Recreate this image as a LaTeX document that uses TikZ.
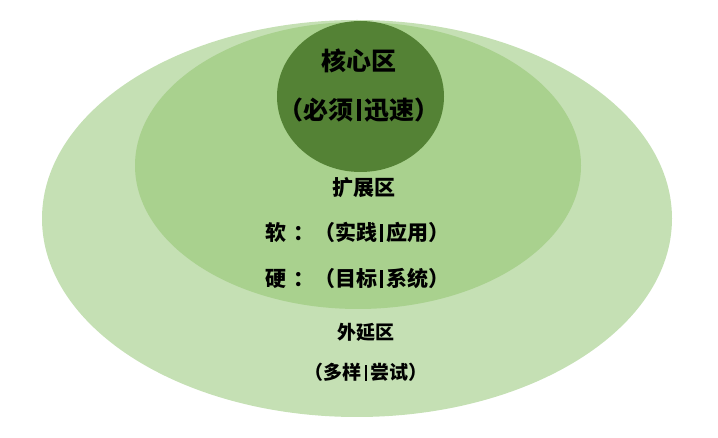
\documentclass[tikz,border=0pt]{standalone}
\usepackage{fontspec}
\setmainfont{Noto Sans CJK SC}
\usetikzlibrary{shapes.geometric}
\definecolor{outerg}{HTML}{C5E0B4}
\definecolor{midg}{HTML}{A9D18E}
\definecolor{innerg}{HTML}{548235}
\newcommand\barsep{\kern.15em\rule[-0.06em]{0.14em}{0.86em}\kern.15em}
\tikzset{
  zone/.style={ellipse, inner sep=0pt, draw=none},
  lbl/.style={inner sep=0pt, text=black},
  bigf/.style={font=\fontsize{25}{28}\selectfont\bfseries},
  midf/.style={font=\fontsize{21}{24}\selectfont\bfseries},
  smlf/.style={font=\fontsize{19}{22}\selectfont\bfseries},
}
\begin{document}
\begin{tikzpicture}[x=1pt,y=-1pt]
\useasboundingbox (0,0) rectangle (718,438);
\node[zone, fill=outerg, minimum width=630pt, minimum height=397pt] (outer) at (357,218.5) {};
\node[zone, fill=midg, minimum width=446pt, minimum height=287pt] (mid) at (358,165.5) {};
\node[zone, fill=innerg, minimum width=167pt, minimum height=151pt] (inner) at (360.5,96.5) {};
\node[lbl, bigf] (c1) at (359,61) {核心区};
\node[lbl, bigf] (c2) at (359,110) {（必须\barsep 迅速）};
\node[lbl, midf] (m1) at (364,188) {扩展区};
\node[lbl, midf] (m2) at (357.5,232.5) {软\kern.3em：（实践\barsep 应用）};
\node[lbl, midf] (m3) at (357.5,279) {硬\kern.3em：（目标\barsep 系统）};
\node[lbl, smlf] (o1) at (366,332) {外延区};
\node[lbl, smlf] (o2) at (366,372.5) {（多样\barsep 尝试）};
\end{tikzpicture}
\end{document}
